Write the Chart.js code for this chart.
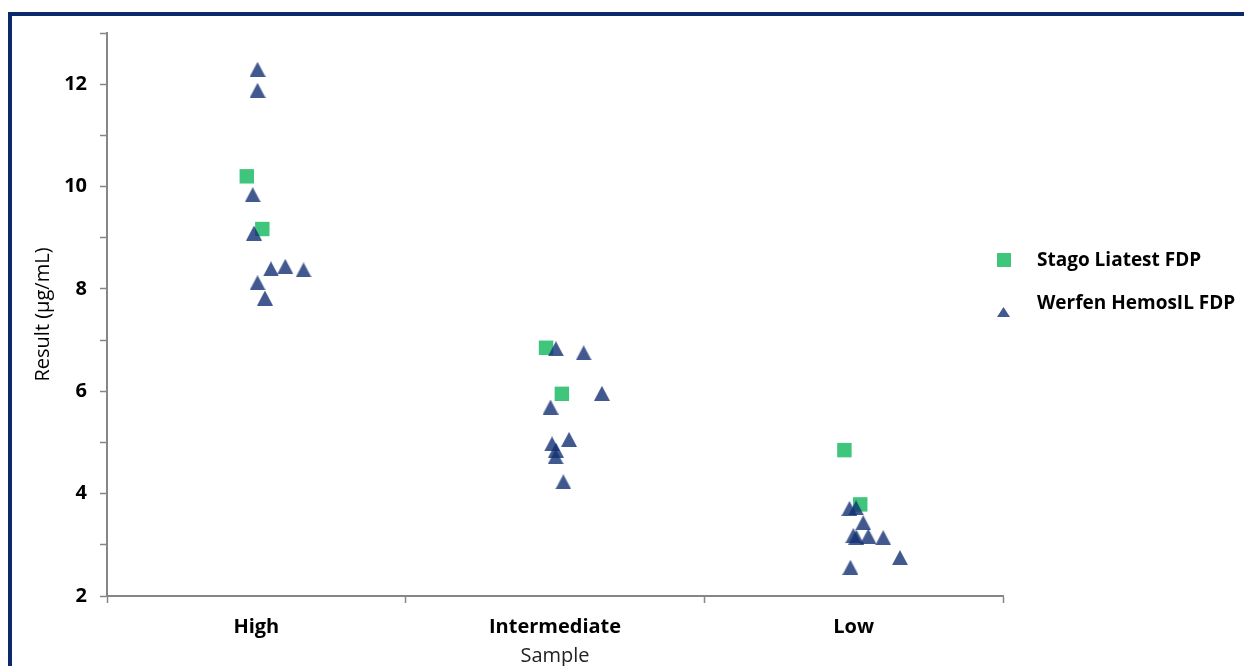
<!DOCTYPE html>
<html>
<head>
<meta charset="utf-8">
<script src="https://cdn.jsdelivr.net/npm/chart.js@4/dist/chart.umd.min.js"></script>
<style>
    html, body {margin: 0; padding: 0; background: #fff; overflow: hidden;}
    #wrap {position: relative; width: 1244px; height: 666px;}
    #frame {
        position: absolute; left: 8px; top: 12px; width: 1300px; height: 700px;
        border-left: 4px solid #0c2a6b; border-top: 4px solid #0c2a6b;
        pointer-events: none;
    }
    canvas {position: absolute; left: 0; top: 0;}
</style>
</head>
<body>
<div id="wrap">
    <canvas id="chart" width="1244" height="666"></canvas>
    <div id="frame"></div>
</div>
<script>
const categories = ["High", "Intermediate", "Low"];

// Stago Liatest FDP
const stagoSample = [0, 0, 1, 1, 2, 2];
const stagoJitter = [-0.032, 0.020, -0.030, 0.023, -0.031, 0.022];
const stagoValues = [10.20, 9.17, 6.85, 5.95, 4.85, 3.79];

// Werfen HemosIL FDP
const werfenSample = [0, 0, 0, 0, 0, 0, 0, 0, 0,
    1, 1, 1, 1, 1, 1, 1, 1, 1,
    2, 2, 2, 2, 2, 2, 2, 2, 2];
const werfenJitter = [0.004, 0.004, -0.012, -0.008, 0.049, 0.097, 0.158, 0.004, 0.029,
    0.003, 0.096, 0.157, -0.015, 0.047, -0.010, 0.003, 0.002, 0.028,
    -0.014, 0.008, 0.032, -0.001, 0.009, 0.049, 0.099, 0.155, -0.011];
const werfenValues = [12.29, 11.88, 9.84, 9.09, 8.39, 8.44, 8.37, 8.12, 7.82,
    6.83, 6.75, 5.96, 5.69, 5.06, 4.97, 4.85, 4.72, 4.23,
    3.71, 3.72, 3.43, 3.18, 3.15, 3.17, 3.14, 2.75, 2.56];

const xTicks = [0, 0.5, 1, 1.5, 2, 2.5, 3];

const green = "#3fc57c";
const navy = "rgba(18, 48, 114, 0.8)";
const axisGray = "#868686";
const fontFamily = "'Open Sans'";

const toPoints = (samples, jitter, values) =>
    values.map((v, i) => ({x: samples[i] + 0.5 + jitter[i], y: v}));

// triangle marker, centred on its box like the source chart
function triangleImage(w, h, color) {
    const c = document.createElement("canvas");
    c.width = w;
    c.height = h;
    const g = c.getContext("2d");
    g.fillStyle = color;
    g.beginPath();
    g.moveTo(w / 2, 0);
    g.lineTo(w, h);
    g.lineTo(0, h);
    g.closePath();
    g.fill();
    return c;
}

const tri = triangleImage(16, 15, navy);

const legendPlugin = {
    id: "sideLegend",
    afterDraw(chart) {
        const {ctx} = chart;
        const ds = chart.data.datasets;
        ctx.save();
        ctx.font = "bold 19px " + fontFamily;
        ctx.textBaseline = "middle";
        ctx.textAlign = "left";

        // square entry
        ctx.fillStyle = ds[0].backgroundColor;
        ctx.fillRect(997, 253, 14, 14);
        ctx.fillStyle = "#000";
        ctx.fillText(ds[0].label, 1037, 261);

        // triangle entry
        ctx.fillStyle = navy;
        ctx.beginPath();
        ctx.moveTo(1003.5, 307);
        ctx.lineTo(1010, 317);
        ctx.lineTo(997, 317);
        ctx.closePath();
        ctx.fill();
        ctx.fillStyle = "#000";
        ctx.fillText(ds[1].label, 1037, 304);
        ctx.restore();
    }
};

new Chart(document.getElementById("chart"), {
    type: "scatter",
    data: {
        datasets: [
            {
                label: "Stago Liatest FDP",
                data: toPoints(stagoSample, stagoJitter, stagoValues),
                pointStyle: "rect",
                pointRadius: 10.2,
                pointHoverRadius: 10.2,
                backgroundColor: green,
                borderWidth: 0,
                order: 2
            },
            {
                label: "Werfen HemosIL FDP",
                data: toPoints(werfenSample, werfenJitter, werfenValues),
                pointStyle: tri,
                pointRadius: 8,
                pointHoverRadius: 8,
                backgroundColor: navy,
                borderWidth: 0,
                order: 1
            }
        ]
    },
    options: {
        responsive: false,
        animation: false,
        layout: {padding: {left: 0, top: 33, right: 241, bottom: 0}},
        plugins: {
            legend: {display: false},
            tooltip: {enabled: false}
        },
        scales: {
            x: {
                type: "linear",
                min: 0,
                max: 3,
                afterBuildTicks: scale => {
                    scale.ticks = xTicks.map(v => ({value: v}));
                },
                afterFit: scale => {
                    scale.height = 70;
                },
                ticks: {
                    autoSkip: false,
                    maxRotation: 0,
                    padding: 12,
                    color: "#000",
                    font: {family: fontFamily, size: 20, weight: "bold"},
                    callback: v => (v % 1 ? categories[Math.floor(v)] : "")
                },
                grid: {
                    drawOnChartArea: false,
                    tickLength: 7,
                    tickWidth: 1.5,
                    tickColor: c => (c.tick && c.tick.value % 1 ? "rgba(0,0,0,0)" : axisGray)
                },
                border: {color: axisGray, width: 2},
                title: {
                    display: true,
                    text: "Sample",
                    color: "#222",
                    font: {family: fontFamily, size: 20},
                    padding: {top: 0, bottom: -2}
                }
            },
            y: {
                min: 2,
                max: 13,
                afterFit: scale => {
                    scale.width = 107;
                },
                ticks: {
                    stepSize: 1,
                    padding: 13,
                    color: "#000",
                    font: {family: fontFamily, size: 20, weight: "bold"},
                    callback: v => (v % 2 === 0 ? v : "")
                },
                grid: {
                    drawOnChartArea: false,
                    tickLength: 7,
                    tickWidth: 1.5,
                    tickColor: axisGray
                },
                border: {color: axisGray, width: 2},
                title: {
                    display: true,
                    text: "Result (μg/mL)",
                    color: "#000",
                    font: {family: fontFamily, size: 20},
                    padding: {top: 31, bottom: 0}
                }
            }
        }
    },
    plugins: [legendPlugin]
});
</script>
</body>
</html>
